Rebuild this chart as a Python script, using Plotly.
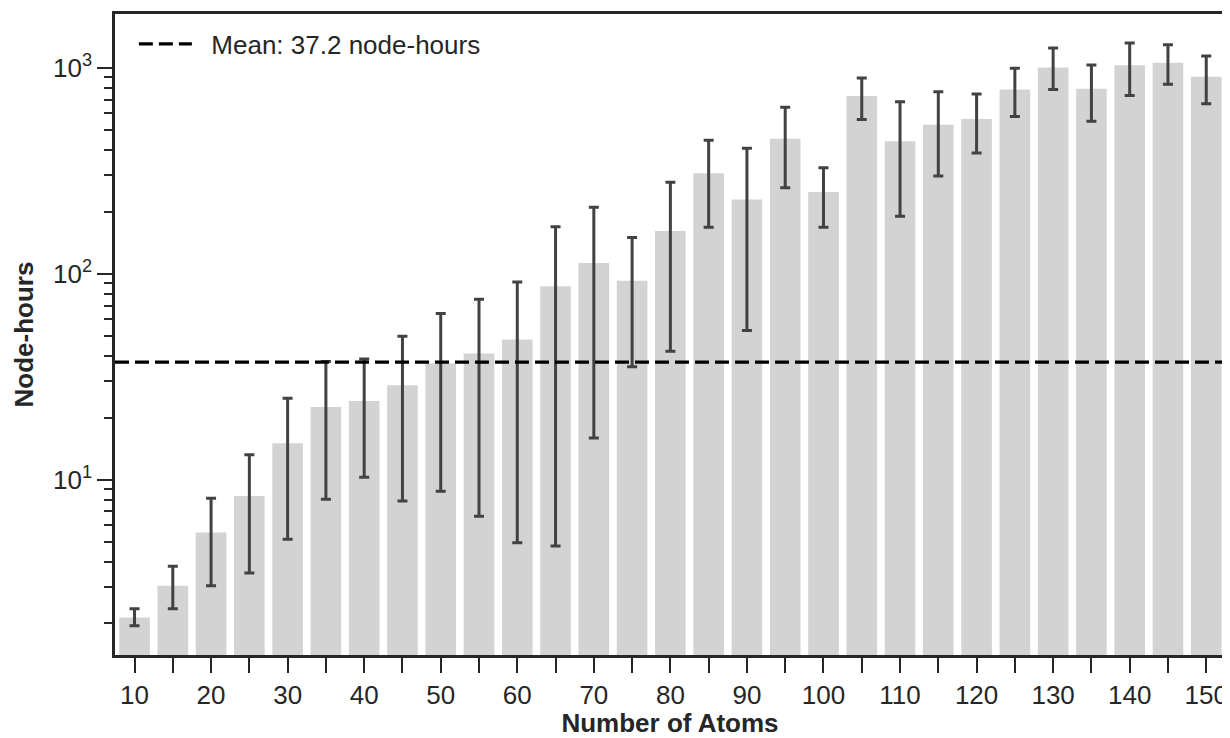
import plotly.graph_objects as go

atoms = [10, 15, 20, 25, 30, 35, 40, 45, 50, 55, 60, 65, 70, 75, 80,
         85, 90, 95, 100, 105, 110, 115, 120, 125, 130, 135, 140, 145, 150]
node_hours = [2.14, 3.05, 5.53, 8.33, 15.0, 22.5, 24.1, 28.7, 36.6, 40.9,
              47.9, 86.9, 112.7, 92.3, 160.9, 307, 229, 452, 249, 729,
              439, 528, 563, 785, 1004, 791, 1027, 1057, 904]
upper = [2.36, 3.79, 8.11, 13.2, 24.8, 37.4, 38.5, 49.6, 64.1, 75.2,
         91.2, 168.8, 210, 150, 278, 445, 406, 642, 327, 891,
         684, 765, 745, 993, 1247, 1031, 1318, 1294, 1140]
lower = [1.95, 2.36, 3.05, 3.52, 5.13, 8.02, 10.26, 7.87, 8.77, 6.64,
         4.94, 4.76, 15.9, 35.3, 42.0, 168, 52.9, 261, 168, 561,
         190, 298, 385, 580, 785, 549, 734, 831, 668]
mean_value = 37.2
x_label_vals = [a for a in atoms if a % 10 == 0]
x_label_text = [str(a) for a in x_label_vals]
x_unlabeled_vals = [a for a in atoms if a % 10 != 0]
y_tick_vals = [10, 100, 1000]
y_tick_text = ["10<sup>1</sup>", "10<sup>2</sup>", "10<sup>3</sup>"]
y_minor_vals = [m * 10 ** k for k in range(0, 4) for m in range(2, 10)]

err_plus = [u - v for u, v in zip(upper, node_hours)]
err_minus = [v - l for v, l in zip(node_hours, lower)]

TXT = "#262626"
FONT = "Liberation Sans, Arial, Helvetica, sans-serif"
FS = 26

fig = go.Figure()
fig.add_trace(go.Bar(
    x=atoms, y=node_hours, width=4,
    marker=dict(color="#d3d3d3", line=dict(width=0)),
    error_y=dict(type="data", symmetric=False, array=err_plus,
                 arrayminus=err_minus, color="#424242",
                 thickness=3, width=5),
    showlegend=False,
))
x_lo, x_hi = 7.45, 152.45
fig.add_trace(go.Scatter(
    x=[x_lo, x_hi], y=[mean_value, mean_value], mode="lines",
    line=dict(color="black", width=3.2, dash="14px,6px"),
    name=f"  Mean: {mean_value} node-hours", showlegend=True,
))

fig.update_layout(
    width=1222, height=730,
    margin=dict(l=107, r=5, t=6, b=83),
    paper_bgcolor="white", plot_bgcolor="white",
    font=dict(family=FONT, size=FS, color=TXT),
    showlegend=True,
    legend=dict(x=0.017, y=0.99, xanchor="left", yanchor="top",
                bgcolor="rgba(255,255,255,0)", borderwidth=0,
                font=dict(size=FS, color=TXT), itemwidth=53),
)
fig.update_xaxes(
    range=[x_lo, x_hi], tickmode="array", tickvals=x_label_vals,
    ticktext=x_label_text, ticks="outside", ticklen=15, tickwidth=2,
    tickcolor=TXT, automargin=False,
    minor=dict(tickmode="array", tickvals=x_unlabeled_vals,
               ticks="outside", ticklen=15, tickwidth=2, tickcolor=TXT,
               showgrid=False),
    showline=True, linecolor=TXT, linewidth=2.5,
    mirror=True, showgrid=False, zeroline=False,
    tickfont=dict(size=FS, color=TXT),
    title=dict(text="<b>Number of Atoms</b>", font=dict(size=FS, color=TXT),
               standoff=14),
)
fig.update_yaxes(
    type="log", range=[0.148, 3.261], tickmode="array",
    tickvals=y_tick_vals, ticktext=y_tick_text, automargin=False,
    ticks="outside", ticklen=15, tickwidth=2, tickcolor=TXT,
    minor=dict(tickmode="array", tickvals=y_minor_vals, ticks="outside",
               ticklen=8, tickwidth=1.5, tickcolor=TXT, showgrid=False),
    showline=True, linecolor=TXT, linewidth=2.5, mirror=True,
    showgrid=False, zeroline=False,
    tickfont=dict(size=FS, color=TXT),
    title=dict(text="<b>Node-hours</b>", font=dict(size=FS, color=TXT),
               standoff=12),
)

fig.write_html("out.html")
